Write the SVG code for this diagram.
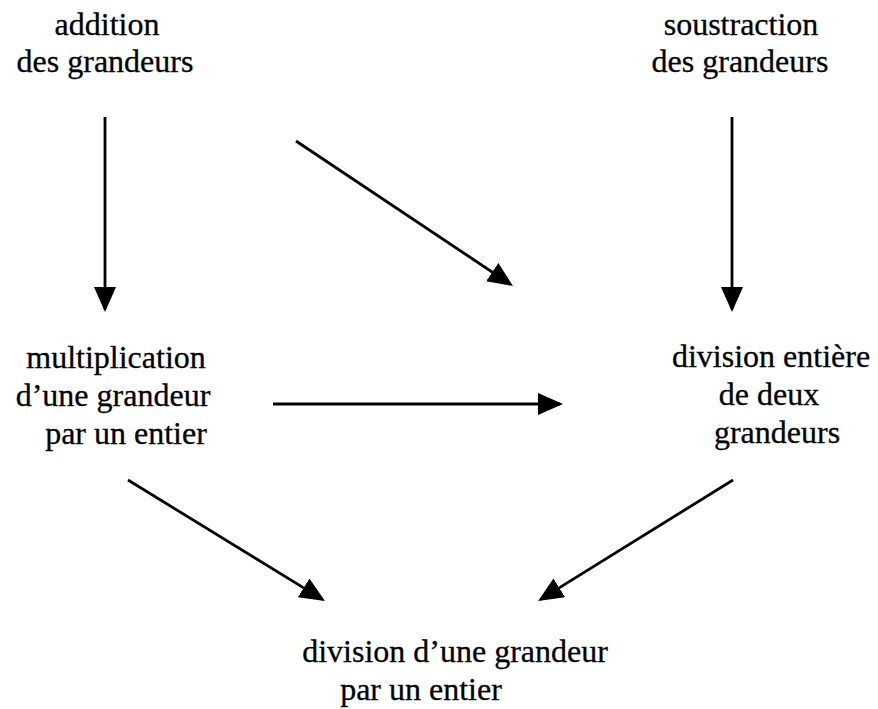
<svg xmlns="http://www.w3.org/2000/svg" width="878" height="709" viewBox="0 0 878 709">
  <defs>
    <style>
      text { font-family: 'Liberation Serif', 'Times New Roman', serif; font-size: 32px; fill: #000; stroke: #000; stroke-width: 0.3; text-anchor: middle; }
      .conn line { stroke: #000; stroke-width: 2.8; fill: none; marker-end: url(#arrow); }
    </style>
    <marker id="arrow" markerUnits="userSpaceOnUse" markerWidth="26" markerHeight="24" refX="22" refY="11" orient="auto">
      <path d="M0,0 L25,11 L0,22 z" fill="#000"/>
    </marker>
  </defs>
  <rect width="878" height="709" fill="#fff"/>
  <g id="addition">
    <text x="107" y="35">addition</text>
    <text x="105" y="72">des grandeurs</text>
  </g>
  <g id="soustraction">
    <text x="741" y="35">soustraction</text>
    <text x="740" y="72">des grandeurs</text>
  </g>
  <g id="multiplication">
    <text x="116" y="368">multiplication</text>
    <text x="113" y="406">d’une grandeur</text>
    <text x="126" y="444">par un entier</text>
  </g>
  <g id="division-entiere">
    <text x="771" y="367">division entière</text>
    <text x="769" y="405">de deux</text>
    <text x="777" y="443">grandeurs</text>
  </g>
  <g id="division-grandeur">
    <text x="455" y="662">division d’une grandeur</text>
    <text x="421" y="700">par un entier</text>
  </g>
  <g id="connectors" class="conn">
    <line x1="105" y1="117" x2="105" y2="309"/>
    <line x1="296" y1="141" x2="510.5" y2="284.3"/>
    <line x1="732" y1="117" x2="732" y2="309"/>
    <line x1="273" y1="404" x2="560" y2="404"/>
    <line x1="128" y1="480" x2="322.4" y2="599.4"/>
    <line x1="733" y1="480" x2="540.6" y2="599.4"/>
  </g>
</svg>
